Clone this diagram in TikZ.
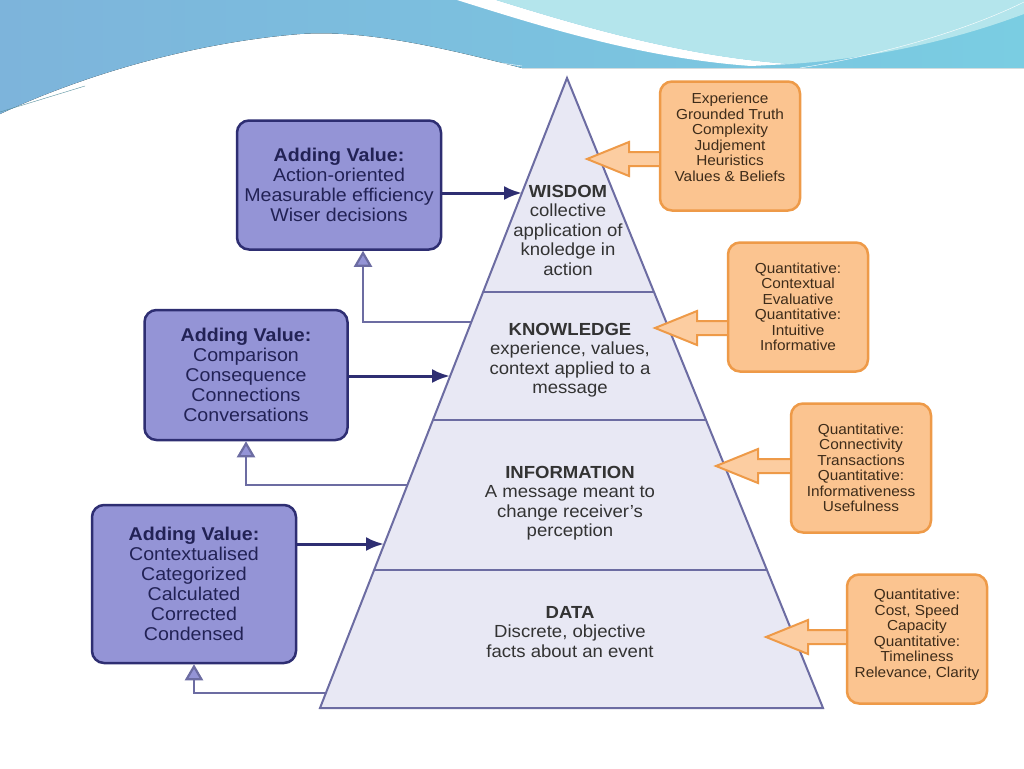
\documentclass[tikz,border=0pt]{standalone}
\usepackage{fontspec}
\setmainfont{Liberation Sans}[FakeStretch=1.06]
\usepackage{xcolor}
\usetikzlibrary{arrows.meta,positioning,calc}
\definecolor{DKSky}  {HTML}{7DB4DB}
\definecolor{DKTeal} {HTML}{7ACDE2}
\definecolor{DKIce}  {HTML}{B4E5EC}
\definecolor{DKLilac}{HTML}{9494D6}
\definecolor{DKNavy} {HTML}{2E2E72}
\definecolor{DKMist} {HTML}{E8E8F4}
\definecolor{DKSlate}{HTML}{6C6CA2}
\definecolor{DKPeach}{HTML}{FBC490}
\definecolor{DKAmber}{HTML}{EE9A48}
\definecolor{DKInk}  {HTML}{333333}
\definecolor{DKBrown}{HTML}{3E2C1A}

% block arrow from a box (#1) to a tip (#2)
\newcommand\hintarrow[2]{%
  \filldraw[hint] (#1) ++(0,7) -- ($(#2)+(42,7)$) -- ($(#2)+(42,17)$) -- (#2)
    -- ($(#2)+(42,-17)$) -- ($(#2)+(42,-7)$) -- ($(#1)+(0,-7)$);}

\begin{document}
\begin{tikzpicture}[x=1pt,y=-1pt,
    value/.style={draw=DKNavy,line width=2.5pt,fill=DKLilac,rounded corners=12pt,
      align=center,text=DKNavy!75!black,font=\fontsize{18.5}{20}\selectfont},
    measure/.style={draw=DKAmber,line width=2.5pt,fill=DKPeach,rounded corners=12pt,
      minimum width=140pt,minimum height=129pt,align=center,text=DKBrown,
      font=\fontsize{14.5}{15.5}\selectfont},
    level/.style={align=center,text=DKInk,inner sep=0pt,font=\fontsize{17.5}{19.5}\selectfont},
    fwd/.style={-{Latex[length=18pt,width=14pt]},DKNavy,line width=3pt},
    bck/.style={-{Triangle[length=16pt,width=18pt,fill=DKLilac]},DKSlate,line width=2.2pt},
    hint/.style={draw=DKAmber,line width=2pt,fill=DKPeach!85!white,line join=miter}
  ]
    \useasboundingbox (0,0) rectangle (1024,768);
    \fill[white] (0,0) rectangle (1024,768);
    % banner
    \fill[left color=DKSky,right color=DKTeal] (0,0) -- (1024,0) -- (1024,68) -- (522,68)
      .. controls (430,44) and (360,30) .. (300,34) .. controls (200,42) and (90,72) .. (0,114) -- cycle;
    \fill[white] (457,0) .. controls (540,26) and (640,58) .. (751,66) -- (790,64)
      .. controls (680,56) and (580,26) .. (496,0) -- cycle;
    \fill[DKIce] (496,0) .. controls (580,26) and (680,56) .. (790,64)
      .. controls (880,58) and (960,38) .. (1024,14) -- (1024,0) -- cycle;
    \draw[white,thin] (160,68) .. controls (260,50) and (400,48) .. (522,66);
    \draw[white,thin] (800,68) .. controls (900,52) and (980,24) .. (1024,2);
    \draw[DKTeal!70!black,thin] (0,112) -- (85,86);
    % pyramid
    \coordinate (apex) at (567,78);
    \filldraw[fill=DKMist,draw=DKSlate,line width=2pt] (apex) -- (823,708) -- (320,708) -- cycle;
    \draw[DKSlate,line width=2pt] (483,292) -- (654,292) (433,420) -- (706,420) (374,570) -- (767,570);
    \node[level] (wis) at (568,230) {\textbf{WISDOM}\\collective\\application of\\knoledge in\\action};
    \node[level] (kno) at (570,360) {\textbf{KNOWLEDGE}\\experience, values,\\context applied to a\\message};
    \node[level] (inf) at (570,503) {\textbf{INFORMATION}\\A message meant to\\change receiver's\\perception};
    \node[level] (dat) at (570,632) {\textbf{DATA}\\Discrete, objective\\facts about an event};
    % points on the left edge
    \coordinate (wL) at (522,193);
    \coordinate (kU) at (471,322);
    \coordinate (kL) at (450,376);
    \coordinate (iU) at (407,485);
    \coordinate (dL) at (384,544);
    \coordinate (dU) at (326,693);
    % adding value
    \node[value,minimum width=204pt,minimum height=129pt] (av1) at (339,185)
      {{\bfseries Adding Value:}\\Action-oriented\\Measurable efficiency\\Wiser decisions};
    \node[value,minimum width=203pt,minimum height=130pt] (av2) at (246,375)
      {{\bfseries Adding Value:}\\Comparison\\Consequence\\Connections\\Conversations};
    \node[value,minimum width=204pt,minimum height=158pt] (av3) at (194,584)
      {{\bfseries Adding Value:}\\Contextualised\\Categorized\\Calculated\\Corrected\\Condensed};
    \draw[fwd] (av1.east |- wL) -- (wL);
    \draw[fwd] (av2.east |- kL) -- (kL);
    \draw[fwd] (av3.east |- dL) -- (dL);
    \draw[bck] (kU) -| ($(av1.south)+(24,0)$);
    \draw[bck] (iU) -| (av2.south);
    \draw[bck] (dU) -| (av3.south);
    % measures
    \node[measure,text depth=18pt] (m1) at (730,146)
      {Experience\\Grounded Truth\\Complexity\\Judjement\\Heuristics\\Values \& Beliefs};
    \node[measure] (m2) at (798,307)
      {Quantitative:\\Contextual\\Evaluative\\Quantitative:\\Intuitive\\Informative};
    \node[measure] (m3) at (861,468)
      {Quantitative:\\Connectivity\\Transactions\\Quantitative:\\Informativeness\\Usefulness};
    \node[measure,text depth=12pt] (m4) at (917,639)
      {Quantitative:\\Cost, Speed\\Capacity\\Quantitative:\\Timeliness\\Relevance, Clarity};
    \coordinate (t1) at (587,159);
    \coordinate (t2) at (655,328);
    \coordinate (t3) at (716,466);
    \coordinate (t4) at (766,637);
    \coordinate (s1) at (m1.west |- t1);
    \coordinate (s2) at (m2.west |- t2);
    \coordinate (s3) at (m3.west |- t3);
    \coordinate (s4) at (m4.west |- t4);
    \hintarrow{s1}{t1}
    \hintarrow{s2}{t2}
    \hintarrow{s3}{t3}
    \hintarrow{s4}{t4}
\end{tikzpicture}
\end{document}
